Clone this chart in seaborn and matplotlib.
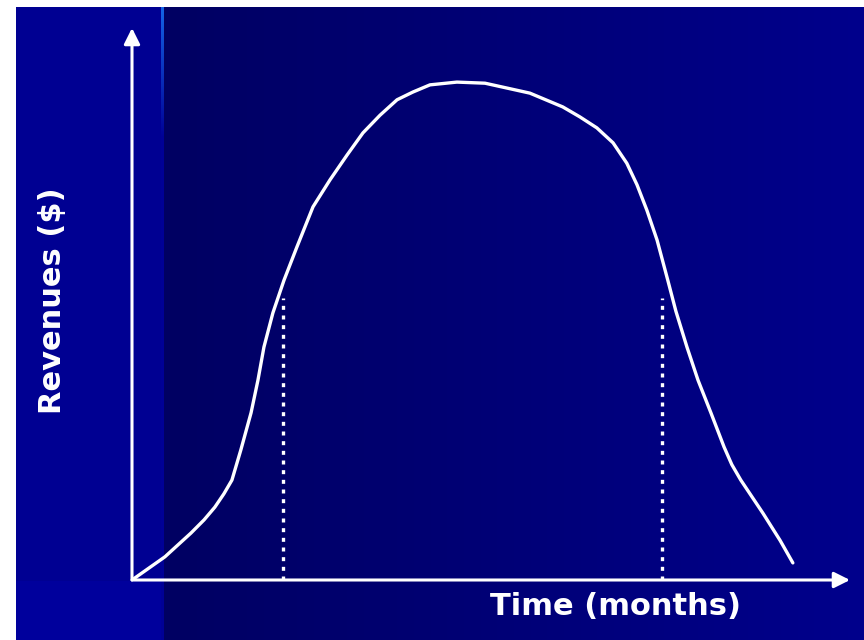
import numpy as np
import matplotlib
matplotlib.use("Agg")
import matplotlib.pyplot as plt
import seaborn as sns

# ---- data ----
time_months = [0.0, 1.10, 1.97, 2.41, 2.77, 3.07, 3.34, 3.64, 3.98, 4.21,
               4.41, 4.71, 5.08, 5.51, 6.05, 6.62, 7.19, 7.72, 8.29, 8.86, 9.39,
               9.96, 10.86, 11.80, 13.30, 14.40, 14.97, 15.54, 16.08, 16.54, 16.88,
               17.21, 17.55, 17.91, 18.18, 18.55, 18.92, 19.35, 19.79, 20.05, 20.35,
               21.09, 21.66, 22.09]
revenue = [0.0, 4.2, 8.5, 10.9, 13.2, 15.6, 18.1, 23.6, 30.3, 36.2,
           42.2, 48.4, 54.3, 60.3, 67.6, 72.5, 77.0, 81.0, 84.2, 87.0, 88.4,
           89.7, 90.2, 90.0, 88.2, 85.7, 83.9, 81.9, 79.2, 75.5, 71.6,
           67.0, 61.6, 54.3, 48.7, 42.2, 36.2, 30.3, 24.1, 20.9, 18.1,
           12.1, 7.2, 3.1]
marker_times = [5.05, 17.71]
marker_level = 51.1
x_label = "Time (months)"
y_label = "Revenues ($)"

sns.set_style("white")
plt.rcParams['font.family'] = ['DejaVu Sans']

W, H = 864, 640
fig = plt.figure(figsize=(W / 100, H / 100), dpi=100)
fig.patch.set_facecolor("white")

# ---- background (slide gradient) ----
bg = fig.add_axes([16 / W, 0, (W - 16) / W, (H - 7) / H])
xs = np.arange(16, W)
ys = np.arange(7, H)
img = np.zeros((len(ys), len(xs), 3))
blue = np.where(xs < 163, 146, 98 + (xs - 163) / (W - 163) * 42) / 255.0
img[:, :, 2] = blue[None, :]
yy = ys[:, None]
xx = xs[None, :]
img[:, :, 2] = np.where((xx < 163) & (yy > 580), 156 / 255.0, img[:, :, 2])
stripe = (xx >= 161) & (xx <= 163)
fade = np.clip(1 - (yy - 7) / 130.0, 0, 1)
img[:, :, 0] = np.where(stripe, 20 / 255.0 * fade, img[:, :, 0])
img[:, :, 1] = np.where(stripe, 100 / 255.0 * fade, img[:, :, 1])
img[:, :, 2] = np.where(stripe, (150 + 80 * fade) / 255.0, img[:, :, 2])
bg.imshow(img, aspect="auto", extent=(16, W, H, 7), interpolation="nearest")
bg.set_xlim(16, W)
bg.set_ylim(H, 7)
bg.axis("off")

# ---- main axes ----
ax = fig.add_axes([132 / W, 60 / H, 718 / W, 552 / H])
ax.patch.set_alpha(0)
sns.lineplot(x=time_months, y=revenue, ax=ax, color="white", linewidth=2.4,
             sort=False, estimator=None, solid_joinstyle="round",
             solid_capstyle="round")
ax.vlines(marker_times, 0, marker_level, colors="white", linewidth=2.4,
          linestyles=(0, (1.2, 1.7)))
arrow = dict(arrowstyle="-|>", color="white", lw=2.2, mutation_scale=24,
             shrinkA=0, shrinkB=0)
ax.annotate("", xy=(24, 0), xytext=(0, 0), arrowprops=arrow, annotation_clip=False)
ax.annotate("", xy=(0, 100), xytext=(0, 0), arrowprops=arrow, annotation_clip=False)
ax.set_xlim(0, 24)
ax.set_ylim(0, 100)
ax.axis("off")

fig.text(616 / W, 1 - 615 / H, x_label, color="white", fontsize=22,
         fontweight="bold", ha="center", va="baseline")
fig.text(52 / W, 1 - 301 / H, y_label, color="white", fontsize=22,
         fontweight="bold", ha="center", va="center", rotation=90)

fig.savefig("out.png", dpi=100)
